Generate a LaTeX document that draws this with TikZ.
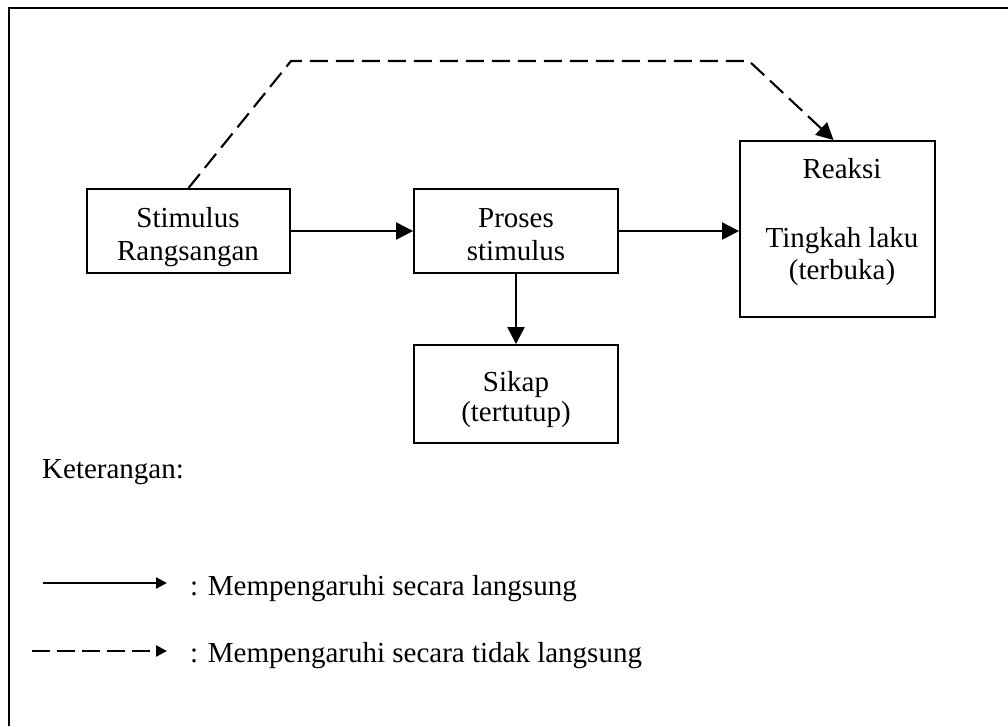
\documentclass[tikz,border=0pt]{standalone}
\usepackage{fontspec}
\setmainfont{Liberation Serif}
\usetikzlibrary{arrows.meta,calc}
\begin{document}
\begin{tikzpicture}[x=1pt,y=-1pt,
  box/.style={draw, line width=1.9pt, rectangle, inner sep=0pt},
  lbl/.style={font=\fontsize{29}{33}\selectfont, anchor=base, inner sep=0pt},
  lbll/.style={font=\fontsize{29}{33}\selectfont, anchor=base west, inner sep=0pt},
  solidarrow/.style={line width=2.3pt, -{Triangle[length=17pt,width=17pt]}},
  dasharrow/.style={line width=2.1pt, dash pattern=on 18pt off 8pt, -{Triangle[length=17pt,width=17pt]}},
  legsolid/.style={line width=2.3pt, -{Triangle[length=11pt,width=11pt]}},
  legdash/.style={line width=2.3pt, dash pattern=on 18pt off 7pt, -{Triangle[length=11pt,width=11pt]}}]
\useasboundingbox (0,0) rectangle (1008,726);
\fill[white] (0,0) rectangle (1008,726);
% frame
\draw[line width=2pt] (9,726) -- (9,8) -- (1008,8);
% boxes
\node[box, minimum width=203pt, minimum height=84pt] (stim) at (188.5,231) {};
\node[box, minimum width=204pt, minimum height=84pt] (proses) at (516,231) {};
\node[box, minimum width=204pt, minimum height=98pt] (sikap) at (516,394) {};
\node[box, minimum width=195pt, minimum height=176pt] (reaksi) at (837.5,229) {};
% texts
\node[lbl] (t1) at (188,227) {Stimulus};
\node[lbl] (t2) at (188,260) {Rangsangan};
\node[lbl] (t3) at (516,227) {Proses};
\node[lbl] (t4) at (516,260) {stimulus};
\node[lbl] (t5) at (516,391) {Sikap};
\node[lbl] (t6) at (516,421) {(tertutup)};
\node[lbl] (t7) at (842,178) {Reaksi};
\node[lbl] (t8) at (842,247) {Tingkah laku};
\node[lbl] (t9) at (842,279) {(terbuka)};
% connectors
\draw[solidarrow] (stim) -- (proses);
\draw[solidarrow] (proses.east) -- (proses.east -| reaksi.west);
\draw[solidarrow] (proses) -- (sikap);
\coordinate (d1) at (291,61);
\coordinate (d2) at (749,61);
\coordinate (dend) at ($(reaksi.north)+(-4,0)$);
\draw[dasharrow] (stim.north) -- (d1) -- (d2) -- (dend);
% legend
\node[lbll] (ket) at (42,478) {Keterangan:};
\coordinate (l1a) at (43,583);
\coordinate (l1b) at (167,583);
\draw[legsolid] (l1a) -- (l1b);
\node[lbll] (leg1) at (190,595) {: Mempengaruhi secara langsung};
\coordinate (l2a) at (32,651);
\coordinate (l2b) at (167,651);
\draw[legdash] (l2a) -- (l2b);
\node[lbll] (leg2) at (190,662) {: Mempengaruhi secara tidak langsung};
\end{tikzpicture}
\end{document}
